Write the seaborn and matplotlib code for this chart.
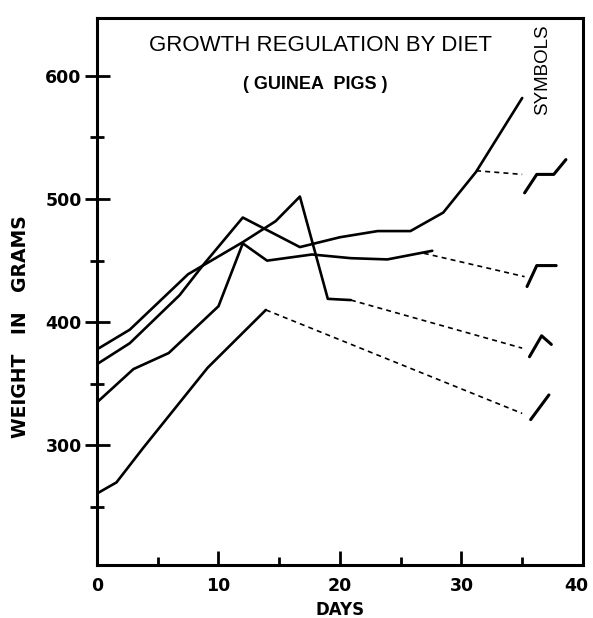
import matplotlib
matplotlib.use("Agg")
import matplotlib.pyplot as plt
import matplotlib.transforms as mtrans
import seaborn as sns
import pandas as pd

# measured curves (days, grams)
days_a = [0, 2.7, 7.5, 12.0, 14.7, 16.7, 19.0, 20.9]
wt_a = [378, 394, 439, 465, 482, 502, 419, 418]
days_b = [0, 2.7, 6.8, 8.7, 12.0, 16.7, 20.0, 23.1, 25.8, 28.5, 31.2, 35.0]
wt_b = [366, 383, 422, 446, 485, 461, 469, 474, 474, 489, 522, 582]
days_c = [0, 3.0, 5.9, 10.0, 12.0, 14.0, 17.7, 20.9, 23.9, 27.6]
wt_c = [335, 362, 375, 413, 464, 450, 455, 452, 451, 458]
days_d = [0, 1.6, 3.8, 9.1, 13.9]
wt_d = [261, 270, 298, 363, 410]

# dashed projections
dash_a = ([20.9, 35.0], [418, 379])
dash_b = ([31.2, 35.0], [523, 520])
dash_c = ([26.9, 35.2], [456, 437])
dash_d = ([13.9, 35.0], [410, 326])

# symbol marks
sym_a = ([35.6, 36.6, 37.4], [372, 389, 382])
sym_b = ([35.2, 36.2, 37.6, 38.6], [505, 520, 520, 532])
sym_c = ([35.4, 36.2, 37.8], [429, 446, 446])
sym_d = ([35.7, 37.2], [321, 341])

sns.set_style("ticks", {"axes.edgecolor": "black", "text.color": "black",
                        "xtick.color": "black", "ytick.color": "black",
                        "axes.labelcolor": "black"})
plt.rcParams['font.family'] = ['Liberation Sans', 'DejaVu Sans']

fig = plt.figure(figsize=(5.93, 6.18), dpi=100)
ax = fig.add_axes([0.1636, 0.0858, 0.8194, 0.8852])

def draw(x, y, **kw):
    df = pd.DataFrame({"day": x, "w": y})
    sns.lineplot(data=df, x="day", y="w", sort=False, estimator=None, ax=ax,
                 color="black", **kw)

for x, y in [(days_a, wt_a), (days_b, wt_b), (days_c, wt_c), (days_d, wt_d)]:
    draw(x, y, linewidth=1.9)
for x, y in [dash_a, dash_b, dash_c, dash_d]:
    draw(x, y, linewidth=1.2, linestyle=(0, (3, 2.5)))
for x, y in [sym_a, sym_b, sym_c, sym_d]:
    draw(x, y, linewidth=2.2)

ax.set_xlim(0, 40)
ax.set_ylim(203, 647)
ax.set_xticks([0, 10, 20, 30, 40])
ax.set_xticks([5, 15, 25, 35], minor=True)
ax.set_yticks([300, 400, 500, 600])
ax.set_yticks([250, 350, 450, 550], minor=True)
ax.tick_params(axis="x", which="major", direction="in", length=10, width=2,
               labelsize=12.5, pad=9)
ax.tick_params(axis="x", which="minor", direction="in", length=6, width=2)
ax.tick_params(axis="y", which="major", direction="inout", length=18, width=2,
               labelsize=12.5, pad=2)
ax.tick_params(axis="y", which="minor", direction="inout", length=10, width=2)
for lab in ax.get_xticklabels() + ax.get_yticklabels():
    lab.set_fontweight("bold")
    lab.set_family("DejaVu Sans")
# nudge the "40" so it stays inside the canvas
last = ax.get_xticklabels()[-1]
last.set_transform(last.get_transform() +
                   mtrans.ScaledTranslation(-5 / 72, 0, fig.dpi_scale_trans))
for sp in ax.spines.values():
    sp.set_visible(True)
    sp.set_linewidth(2.2)

ax.set_xlabel("DAYS", fontsize=12, fontweight="bold", family="DejaVu Sans",
              labelpad=4)
ax.set_ylabel("WEIGHT   IN   GRAMS", fontsize=13.5, fontweight="bold",
              family="DejaVu Sans")
ax.yaxis.set_label_coords(-0.138, 0.435)

ax.text(0.46, 0.95, "GROWTH REGULATION BY DIET", transform=ax.transAxes,
        ha="center", va="center", fontsize=16)
ax.text(0.45, 0.878, "( GUINEA  PIGS )", transform=ax.transAxes,
        ha="center", va="center", fontsize=13, fontweight="bold")
ax.text(0.918, 0.905, "SYMBOLS", transform=ax.transAxes, rotation=90,
        ha="center", va="center", fontsize=13.5)

fig.savefig("out.png", dpi=100)
